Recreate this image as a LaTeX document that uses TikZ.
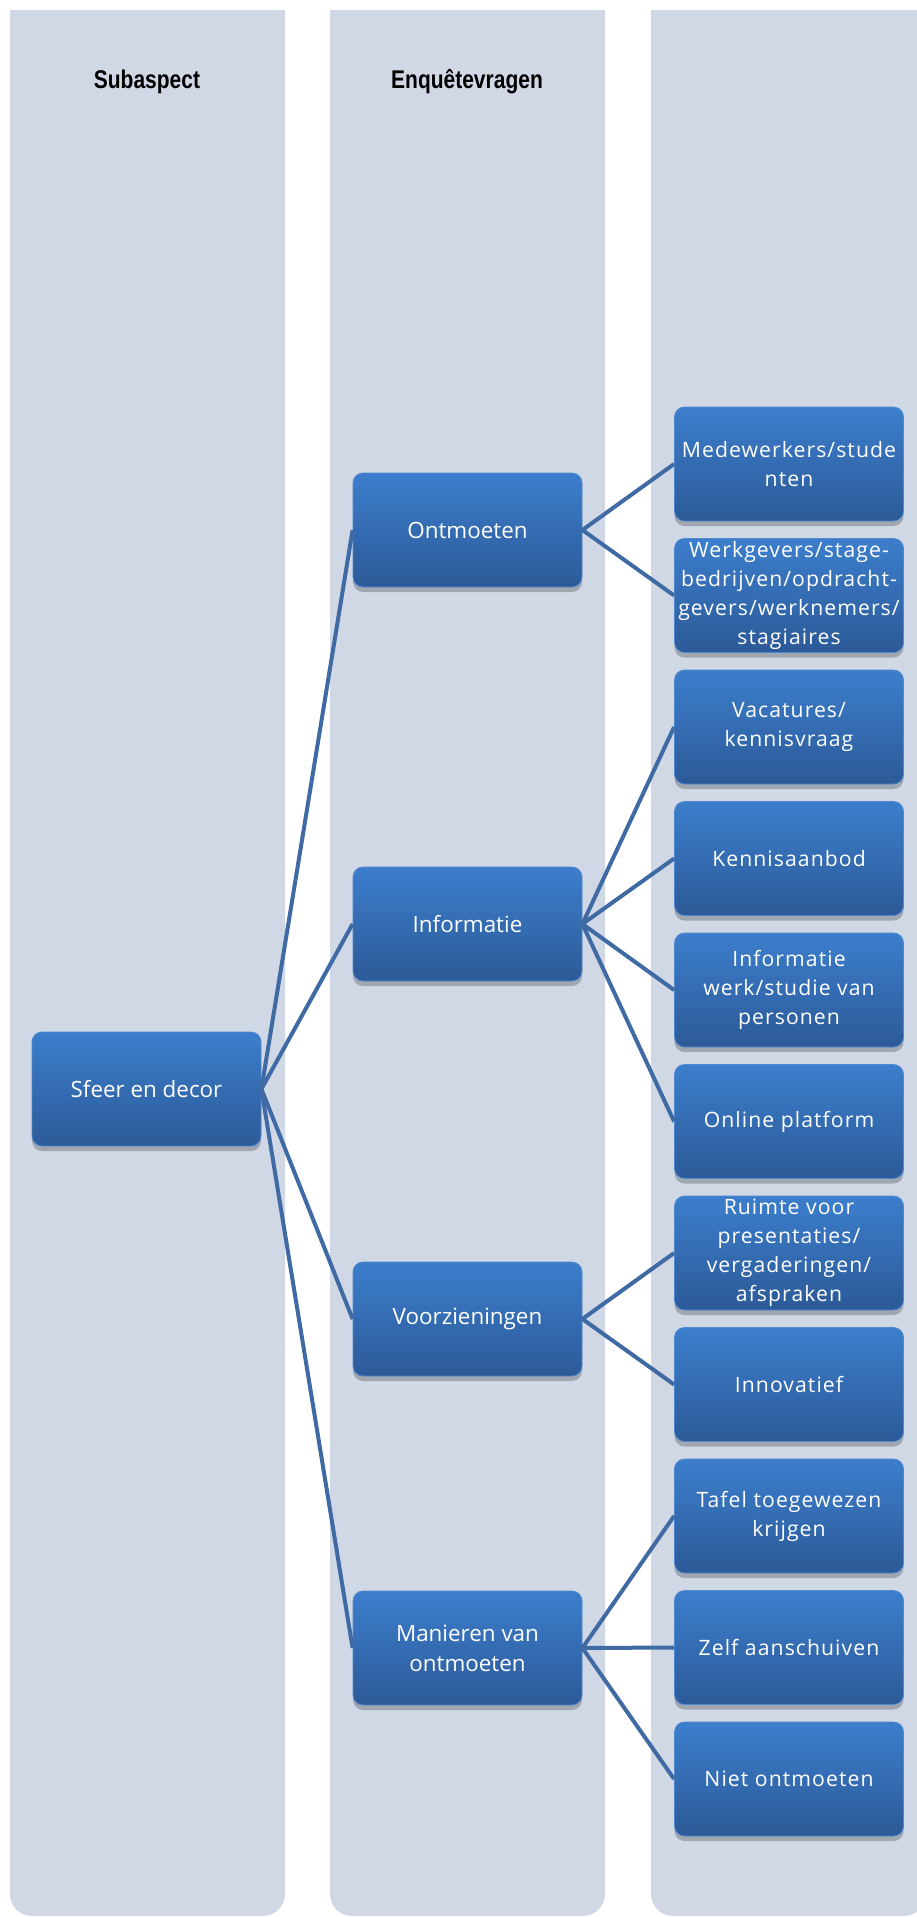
\documentclass[tikz,border=0pt]{standalone}
\usepackage{fontspec}
\setmainfont{Open Sans}
\newfontfamily\headfont[FakeStretch=0.82]{Liberation Sans}
\newfontfamily\leaffont[LetterSpace=5]{Open Sans}
\usetikzlibrary{shadows}
\definecolor{colbg}{RGB}{208,216,230}
\definecolor{boxtop}{RGB}{60,126,204}
\definecolor{boxbot}{RGB}{44,90,152}
\definecolor{boxedge}{RGB}{80,136,206}
\definecolor{linkc}{RGB}{63,106,164}

\begin{document}
\begin{tikzpicture}[x=0.5pt,y=-0.5pt,
  box/.style={rounded corners=5pt, top color=boxtop, bottom color=boxbot,
    draw=boxedge, line width=0.4pt, text=white, align=center,
    minimum width=114.5pt, minimum height=57pt, inner sep=0pt,
    drop shadow={shadow xshift=0pt, shadow yshift=-2.5pt, opacity=0.35, fill=black!70}},
  big/.style={box, font=\fontsize{11.2}{15}\selectfont},
  small/.style={box, font=\leaffont\fontsize{10.6}{14.5}\selectfont},
  head/.style={font=\headfont\bfseries\fontsize{12.8}{14}\selectfont, text=black},
  link/.style={draw=linkc, line width=2pt}]

\useasboundingbox (0,0) rectangle (916,1917);

% three lanes, square at the top, rounded at the bottom
\foreach \xa/\xb in {10/285, 330/605, 651/926}{
  \fill[colbg, rounded corners=11pt] (\xa,10) rectangle (\xb,1916);
  \fill[colbg] (\xa,10) rectangle (\xb,200);
}

\node[head] (h1) at (147,82) {Subaspect};
\node[head] (h2) at (467,82) {Enquêtevragen};

% level 1
\node[big] (sfeer) at (146.5,1089) {Sfeer en decor};

% level 2
\node[big] (ontm) at (467.5,530) {Ontmoeten};
\node[big] (info) at (467.5,924) {Informatie};
\node[big] (voorz) at (467.5,1319) {Voorzieningen};
\node[big] (manier) at (467.5,1648) {Manieren van\\ontmoeten};

% level 3
\node[small] (m1) at (789,464) {Medewerkers/stude\\nten};
\node[small] (m2) at (789,595.5) {Werkgevers/stage-\\bedrijven/opdracht-\\gevers/werknemers/\\stagiaires};
\node[small] (v1) at (789,727) {Vacatures/\\kennisvraag};
\node[small] (v2) at (789,858.5) {Kennisaanbod};
\node[small] (v3) at (789,990) {Informatie\\werk/studie van\\personen};
\node[small] (v4) at (789,1121.5) {Online platform};
\node[small] (r1) at (789,1253) {Ruimte voor\\presentaties/\\vergaderingen/\\afspraken};
\node[small] (r2) at (789,1384.5) {Innovatief};
\node[small] (t1) at (789,1516) {Tafel toegewezen\\krijgen};
\node[small] (t2) at (789,1647.5) {Zelf aanschuiven};
\node[small] (t3) at (789,1779) {Niet ontmoeten};

% connectors
\foreach \c in {ontm,info,voorz,manier}
  \draw[link] (sfeer.east) -- (\c.west);
\foreach \c in {m1,m2}
  \draw[link] (ontm.east) -- (\c.west);
\foreach \c in {v1,v2,v3,v4}
  \draw[link] (info.east) -- (\c.west);
\foreach \c in {r1,r2}
  \draw[link] (voorz.east) -- (\c.west);
\foreach \c in {t1,t2,t3}
  \draw[link] (manier.east) -- (\c.west);
\end{tikzpicture}
\end{document}
